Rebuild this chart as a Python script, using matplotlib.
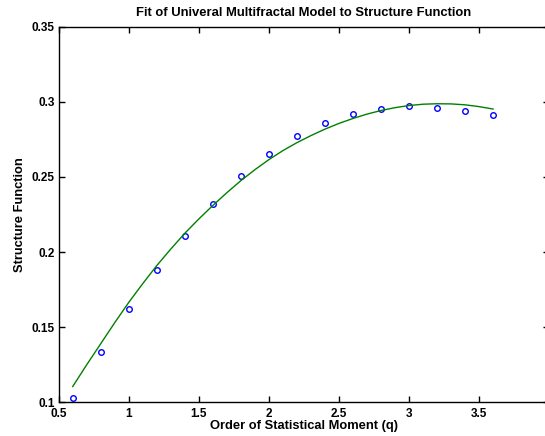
import numpy as np
import matplotlib
matplotlib.use("Agg")
import matplotlib.pyplot as plt

plt.rcParams['font.family'] = ['Liberation Sans', 'DejaVu Sans']
plt.rcParams['font.weight'] = 'bold'

# measured structure function
q_data = [0.6, 0.8, 1.0, 1.2, 1.4, 1.6, 1.8, 2.0, 2.2, 2.4, 2.6, 2.8, 3.0, 3.2, 3.4, 3.6]
s_data = [0.1027, 0.1333, 0.1618, 0.1878, 0.2107, 0.2320, 0.2503, 0.2650,
          0.2771, 0.2858, 0.2920, 0.2955, 0.2969, 0.2962, 0.2942, 0.2913]

# fitted model curve
q_fit = [0.6, 0.7, 0.8, 0.9, 1.0, 1.1, 1.2, 1.3, 1.4, 1.5, 1.6, 1.7, 1.8, 1.9, 2.0, 2.1,
         2.2, 2.3, 2.4, 2.5, 2.6, 2.7, 2.8, 2.9, 3.0, 3.1, 3.2, 3.3, 3.4, 3.5, 3.6]
s_fit = [0.1105, 0.1250, 0.1390, 0.1530, 0.1665, 0.1790, 0.1910, 0.2020, 0.2125,
         0.2220, 0.2310, 0.2395, 0.2475, 0.2548, 0.2615, 0.2675, 0.2728, 0.2775,
         0.2818, 0.2856, 0.2889, 0.2918, 0.2942, 0.2961, 0.2975, 0.2984, 0.2987,
         0.2986, 0.2980, 0.2968, 0.2952]

x_ticks = [0.5, 1, 1.5, 2, 2.5, 3, 3.5]
x_labels = ['0.5', '1', '1.5', '2', '2.5', '3', '3.5']
y_ticks = [0.1, 0.15, 0.2, 0.25, 0.3, 0.35]
y_labels = ['0.1', '0.15', '0.2', '0.25', '0.3', '0.35']

fig = plt.figure(figsize=(5.45, 4.36), dpi=100)
# right edge of the box sits just outside the picture, like the original crop
ax = fig.add_axes([0.1077, 0.0773, 0.8998, 0.8615])

ax.plot(q_data, s_data, 'o', mfc='none', mec='blue', ms=4, mew=1)
ax.plot(q_fit, s_fit, '-', color=(0, 0.5, 0), lw=1)

ax.set_xlim(0.5, 4.0)
ax.set_ylim(0.1, 0.35)
ax.set_xticks(x_ticks)
ax.set_xticklabels(x_labels)
ax.set_yticks(y_ticks)
ax.set_yticklabels(y_labels)
ax.tick_params(direction='in', top=True, right=True, length=4, width=1,
               labelsize=8.5)
ax.tick_params(axis='x', pad=4)
ax.tick_params(axis='y', pad=3)
for s in ax.spines.values():
    s.set_linewidth(1)

ax.set_title('Fit of Univeral Multifractal Model to Structure Function',
             fontsize=9.4, fontweight='bold', pad=8)
ax.set_xlabel('Order of Statistical Moment (q)', fontsize=9.3, fontweight='bold', labelpad=0)
ax.set_ylabel('Structure Function', fontsize=9.3, fontweight='bold', labelpad=4)

fig.savefig('out.png', dpi=100)
